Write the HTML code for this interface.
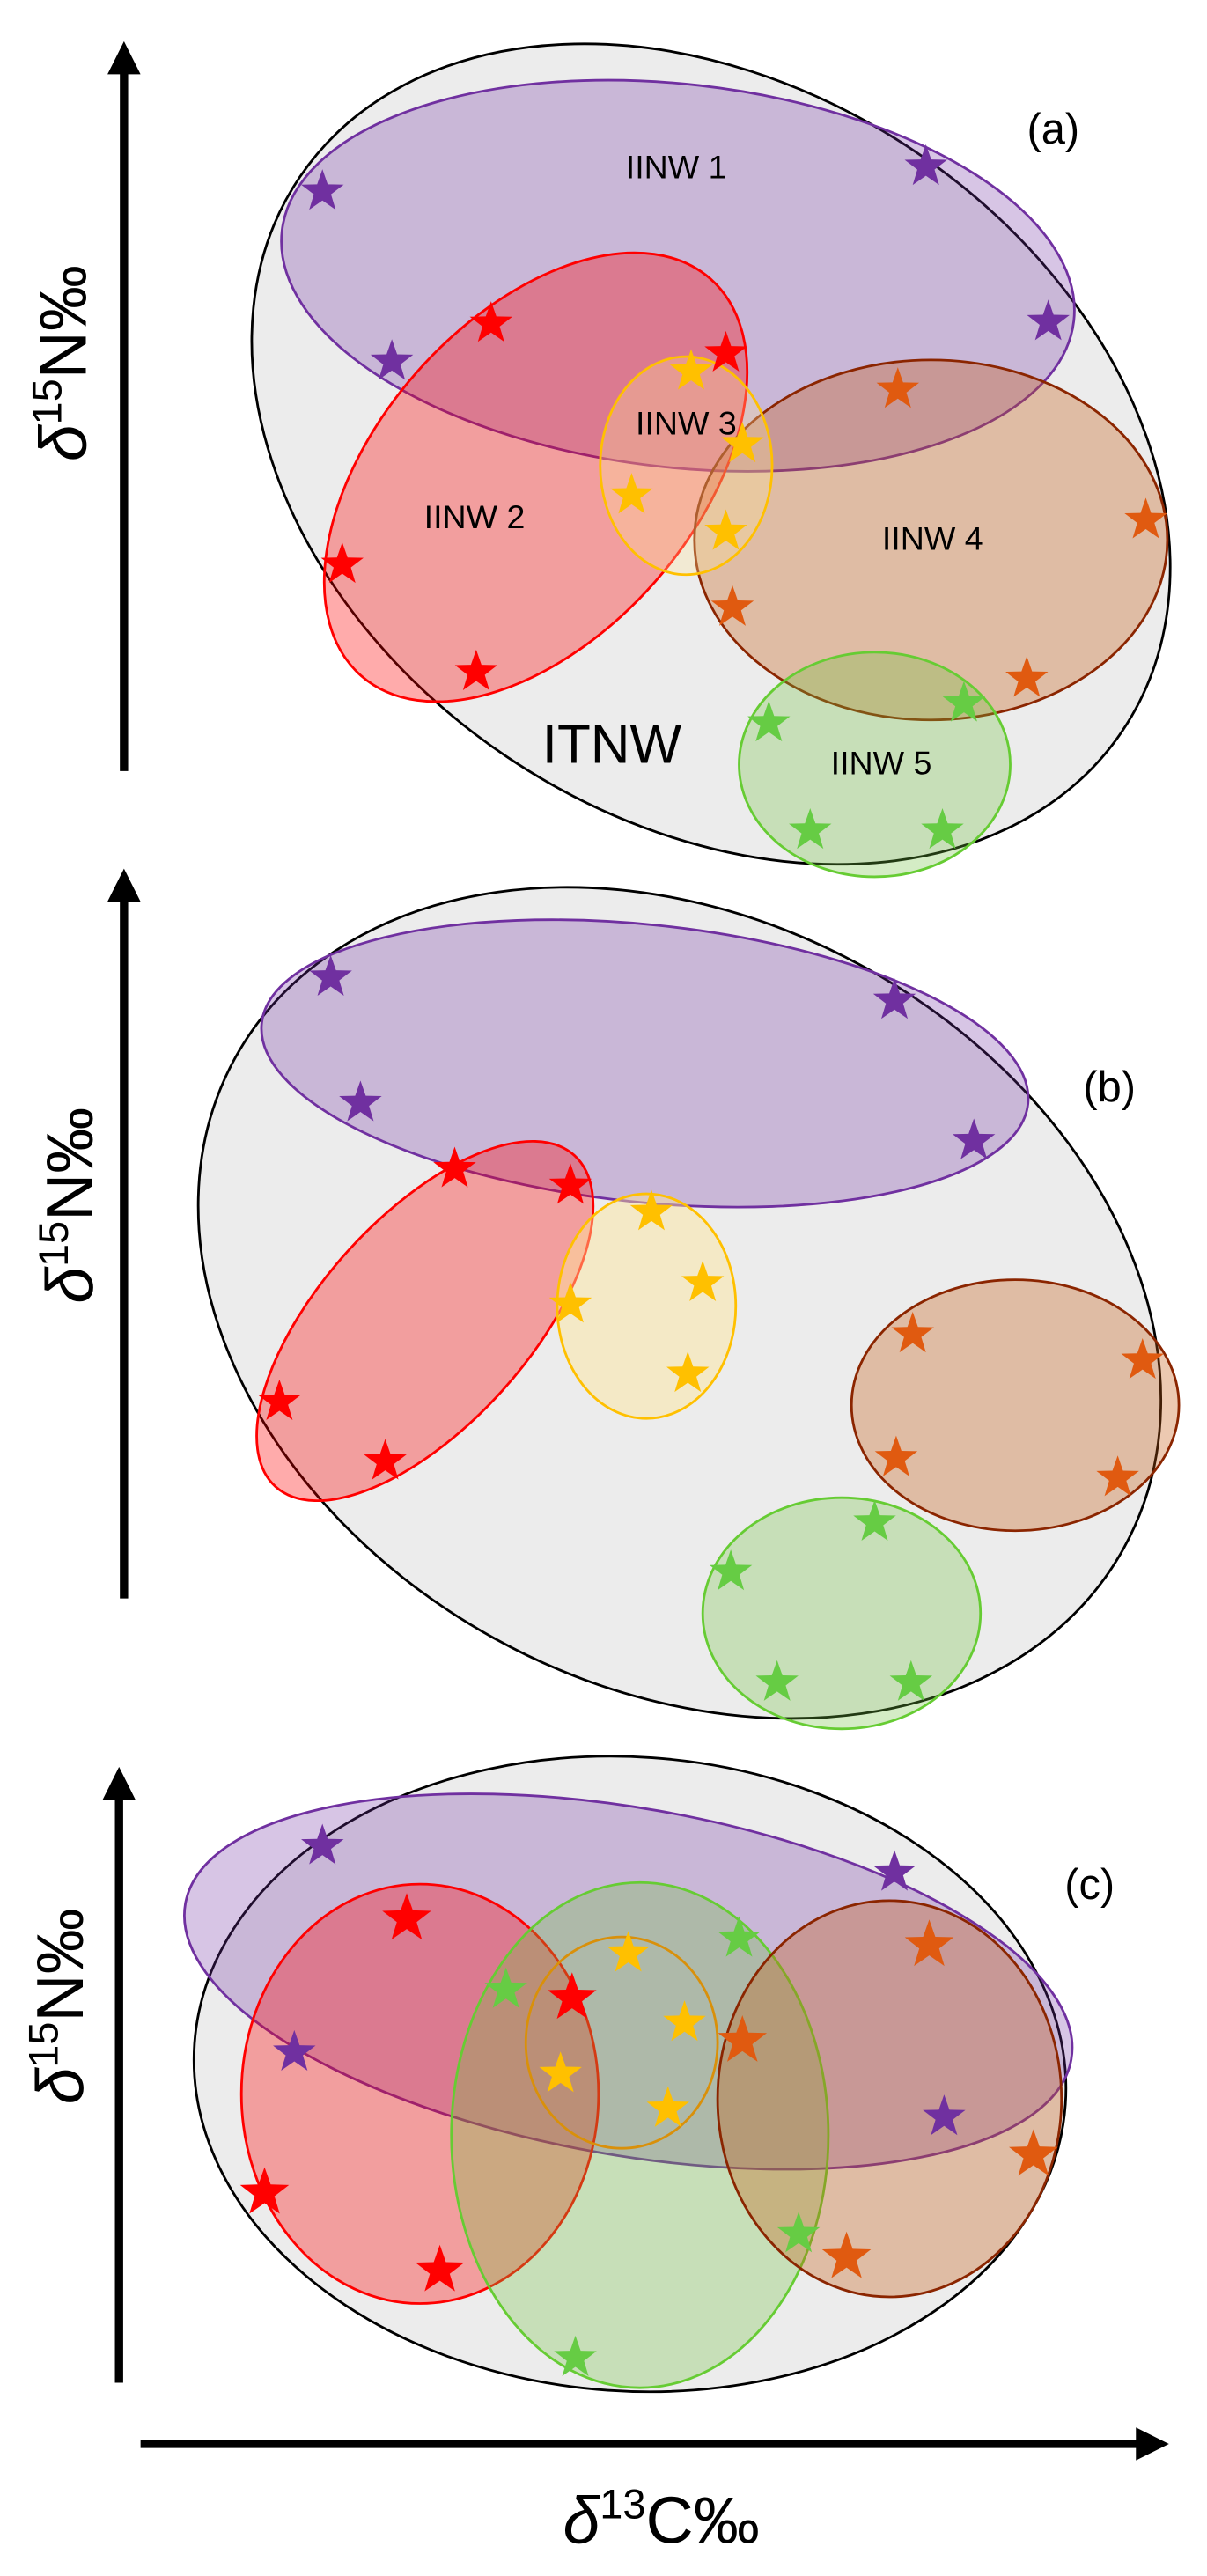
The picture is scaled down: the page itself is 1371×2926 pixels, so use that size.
<!DOCTYPE html>
<html><head><meta charset="utf-8"><style>html,body{margin:0;padding:0;background:#fff}svg{display:block}</style></head>
<body>
<svg width="1371" height="2926" viewBox="0 0 730 1560" preserveAspectRatio="none" xmlns="http://www.w3.org/2000/svg" font-family="Liberation Sans, sans-serif">
<defs>
<path id="s" d="M0,-13.6 L3.2,-4.4 12.9,-4.2 5.2,1.7 8,11 0,5.4 -8,11 -5.2,1.7 -12.9,-4.2 -3.2,-4.4Z"/>
<path id="b" d="M0,-15.6 L3.7,-5.1 14.8,-4.8 6,2 9.2,12.6 0,6.2 -9.2,12.6 -6,2 -14.8,-4.8 -3.7,-5.1Z"/>
<marker id="ah" viewBox="0 0 10 10" refX="5" refY="5" markerWidth="4" markerHeight="4" orient="auto"><path d="M0,0 L10,5 L0,10Z" fill="#000"/></marker>
</defs>
<rect width="730" height="1560" fill="#fff"/>

<!-- axes -->
<g stroke="#000" stroke-width="5">
<line x1="75" y1="467" x2="75" y2="35" marker-end="url(#ah)"/>
<line x1="75" y1="968" x2="75" y2="536" marker-end="url(#ah)"/>
<line x1="72" y1="1443" x2="72" y2="1080" marker-end="url(#ah)"/>
<line x1="85" y1="1480" x2="697" y2="1480" marker-end="url(#ah)"/>
</g>
<g font-size="40" fill="#000">
<text transform="translate(52,220) rotate(-90)" text-anchor="middle"><tspan font-style="italic">δ</tspan><tspan font-size="25" dy="-15">15</tspan><tspan dy="15">N‰</tspan></text>
<text transform="translate(56,730) rotate(-90)" text-anchor="middle"><tspan font-style="italic">δ</tspan><tspan font-size="25" dy="-15">15</tspan><tspan dy="15">N‰</tspan></text>
<text transform="translate(50,1215) rotate(-90)" text-anchor="middle"><tspan font-style="italic">δ</tspan><tspan font-size="25" dy="-15">15</tspan><tspan dy="15">N‰</tspan></text>
<text x="400" y="1540" text-anchor="middle"><tspan font-style="italic">δ</tspan><tspan font-size="25" dy="-15">13</tspan><tspan dy="15">C‰</tspan></text>
</g>

<!-- panel a -->
<ellipse cx="430" cy="275" rx="300" ry="221" transform="rotate(34 430 275)" fill="#ececec" stroke="#000" stroke-width="1.5"/>
<ellipse cx="410" cy="167" rx="241" ry="116" transform="rotate(6.5 410 167)" fill="#7030a0" fill-opacity="0.28" stroke="#7030a0" stroke-width="1.5"/>
<ellipse cx="324" cy="289" rx="160" ry="96" transform="rotate(-48.7 324 289)" fill="#ff0000" fill-opacity="0.33" stroke="#ff0000" stroke-width="1.5"/>
<ellipse cx="563" cy="327" rx="143" ry="109" fill="#c55a11" fill-opacity="0.33" stroke="#8b2500" stroke-width="1.5"/>
<ellipse cx="415" cy="282" rx="52" ry="66" fill="#ffe699" fill-opacity="0.3" stroke="#ffc000" stroke-width="1.5"/>
<ellipse cx="529" cy="463" rx="82" ry="68" fill="#70c040" fill-opacity="0.3" stroke="#66cc33" stroke-width="1.5"/>
<g font-size="20" fill="#000" text-anchor="middle">
<text x="409" y="108">IINW 1</text>
<text x="287" y="320">IINW 2</text>
<text x="415" y="263">IINW 3</text>
<text x="564" y="333">IINW 4</text>
<text x="533" y="469">IINW 5</text>
<text x="370" y="462" font-size="33">ITNW</text>
<text x="637" y="87" font-size="26">(a)</text>
<text x="671" y="667" font-size="26">(b)</text>
<text x="659" y="1150" font-size="26">(c)</text>
</g>
<g fill="#7030a0"><use href="#s" x="195" y="116"/><use href="#s" x="560" y="101"/><use href="#s" x="634" y="195"/><use href="#s" x="237" y="219"/></g>
<g fill="#ff0000"><use href="#s" x="297" y="196"/><use href="#s" x="439" y="214"/><use href="#s" x="207" y="342"/><use href="#s" x="288" y="407"/></g>
<g fill="#ffc000"><use href="#s" x="418" y="225"/><use href="#s" x="449" y="269"/><use href="#s" x="382" y="300"/><use href="#s" x="439" y="322"/></g>
<g fill="#e05a10"><use href="#s" x="543" y="236"/><use href="#s" x="693" y="315"/><use href="#s" x="443" y="368"/><use href="#s" x="621" y="411"/></g>
<g fill="#66cc44"><use href="#s" x="583" y="426"/><use href="#s" x="465" y="438"/><use href="#s" x="490" y="503"/><use href="#s" x="570" y="503"/></g>

<!-- panel b -->
<ellipse cx="411" cy="789" rx="307" ry="232" transform="rotate(29 411 789)" fill="#ececec" stroke="#000" stroke-width="1.5"/>
<ellipse cx="390" cy="644" rx="233" ry="84" transform="rotate(6 390 644)" fill="#7030a0" fill-opacity="0.28" stroke="#7030a0" stroke-width="1.5"/>
<ellipse cx="257" cy="800" rx="135" ry="63" transform="rotate(-48 257 800)" fill="#ff0000" fill-opacity="0.33" stroke="#ff0000" stroke-width="1.5"/>
<ellipse cx="391" cy="791" rx="54" ry="68" fill="#ffe699" fill-opacity="0.45" stroke="#ffc000" stroke-width="1.5"/>
<ellipse cx="614" cy="851" rx="99" ry="76" fill="#c55a11" fill-opacity="0.33" stroke="#8b2500" stroke-width="1.5"/>
<ellipse cx="509" cy="977" rx="84" ry="70" fill="#70c040" fill-opacity="0.3" stroke="#66cc33" stroke-width="1.5"/>
<g fill="#7030a0"><use href="#s" x="200" y="592"/><use href="#s" x="541" y="606"/><use href="#s" x="218" y="668"/><use href="#s" x="589" y="691"/></g>
<g fill="#ff0000"><use href="#s" x="275" y="708"/><use href="#s" x="345" y="718"/><use href="#s" x="169" y="849"/><use href="#s" x="233" y="885"/></g>
<g fill="#ffc000"><use href="#s" x="394" y="734"/><use href="#s" x="425" y="777"/><use href="#s" x="345" y="790"/><use href="#s" x="416" y="832"/></g>
<g fill="#e05a10"><use href="#s" x="552" y="808"/><use href="#s" x="691" y="824"/><use href="#s" x="542" y="883"/><use href="#s" x="676" y="895"/></g>
<g fill="#66cc44"><use href="#s" x="529" y="922"/><use href="#s" x="442" y="952"/><use href="#s" x="470" y="1019"/><use href="#s" x="551" y="1019"/></g>

<!-- panel c -->
<ellipse cx="381" cy="1256" rx="264" ry="192" transform="rotate(4 381 1256)" fill="#ececec" stroke="#000" stroke-width="1.5"/>
<ellipse cx="380" cy="1200" rx="272" ry="105" transform="rotate(10 380 1200)" fill="#7030a0" fill-opacity="0.28" stroke="#7030a0" stroke-width="1.5"/>
<ellipse cx="254" cy="1268" rx="108" ry="127" fill="#ff0000" fill-opacity="0.33" stroke="#ff0000" stroke-width="1.5"/>
<ellipse cx="387" cy="1293" rx="114" ry="153" fill="#70c040" fill-opacity="0.3" stroke="#66cc33" stroke-width="1.5"/>
<ellipse cx="538" cy="1271" rx="104" ry="120" fill="#c55a11" fill-opacity="0.33" stroke="#8b2500" stroke-width="1.5"/>
<ellipse cx="376" cy="1237" rx="58" ry="64" fill="none" stroke="#d9900a" stroke-width="1.5"/>
<g fill="#7030a0"><use href="#s" x="195" y="1118"/><use href="#s" x="541" y="1134"/><use href="#s" x="178" y="1243"/><use href="#s" x="571" y="1282"/></g>
<g fill="#ff0000"><use href="#b" x="246" y="1162"/><use href="#b" x="346" y="1210"/><use href="#b" x="160" y="1328"/><use href="#b" x="266" y="1375"/></g>
<g fill="#ffc000"><use href="#s" x="380" y="1183"/><use href="#s" x="414" y="1225"/><use href="#s" x="339" y="1256"/><use href="#s" x="404" y="1277"/></g>
<g fill="#66cc44"><use href="#s" x="447" y="1174"/><use href="#s" x="306" y="1205"/><use href="#s" x="483" y="1353"/><use href="#s" x="348" y="1428"/></g>
<g fill="#e05a10"><use href="#b" x="562" y="1178"/><use href="#b" x="449" y="1236"/><use href="#b" x="625" y="1305"/><use href="#b" x="512" y="1367"/></g>
</svg>
</body></html>
